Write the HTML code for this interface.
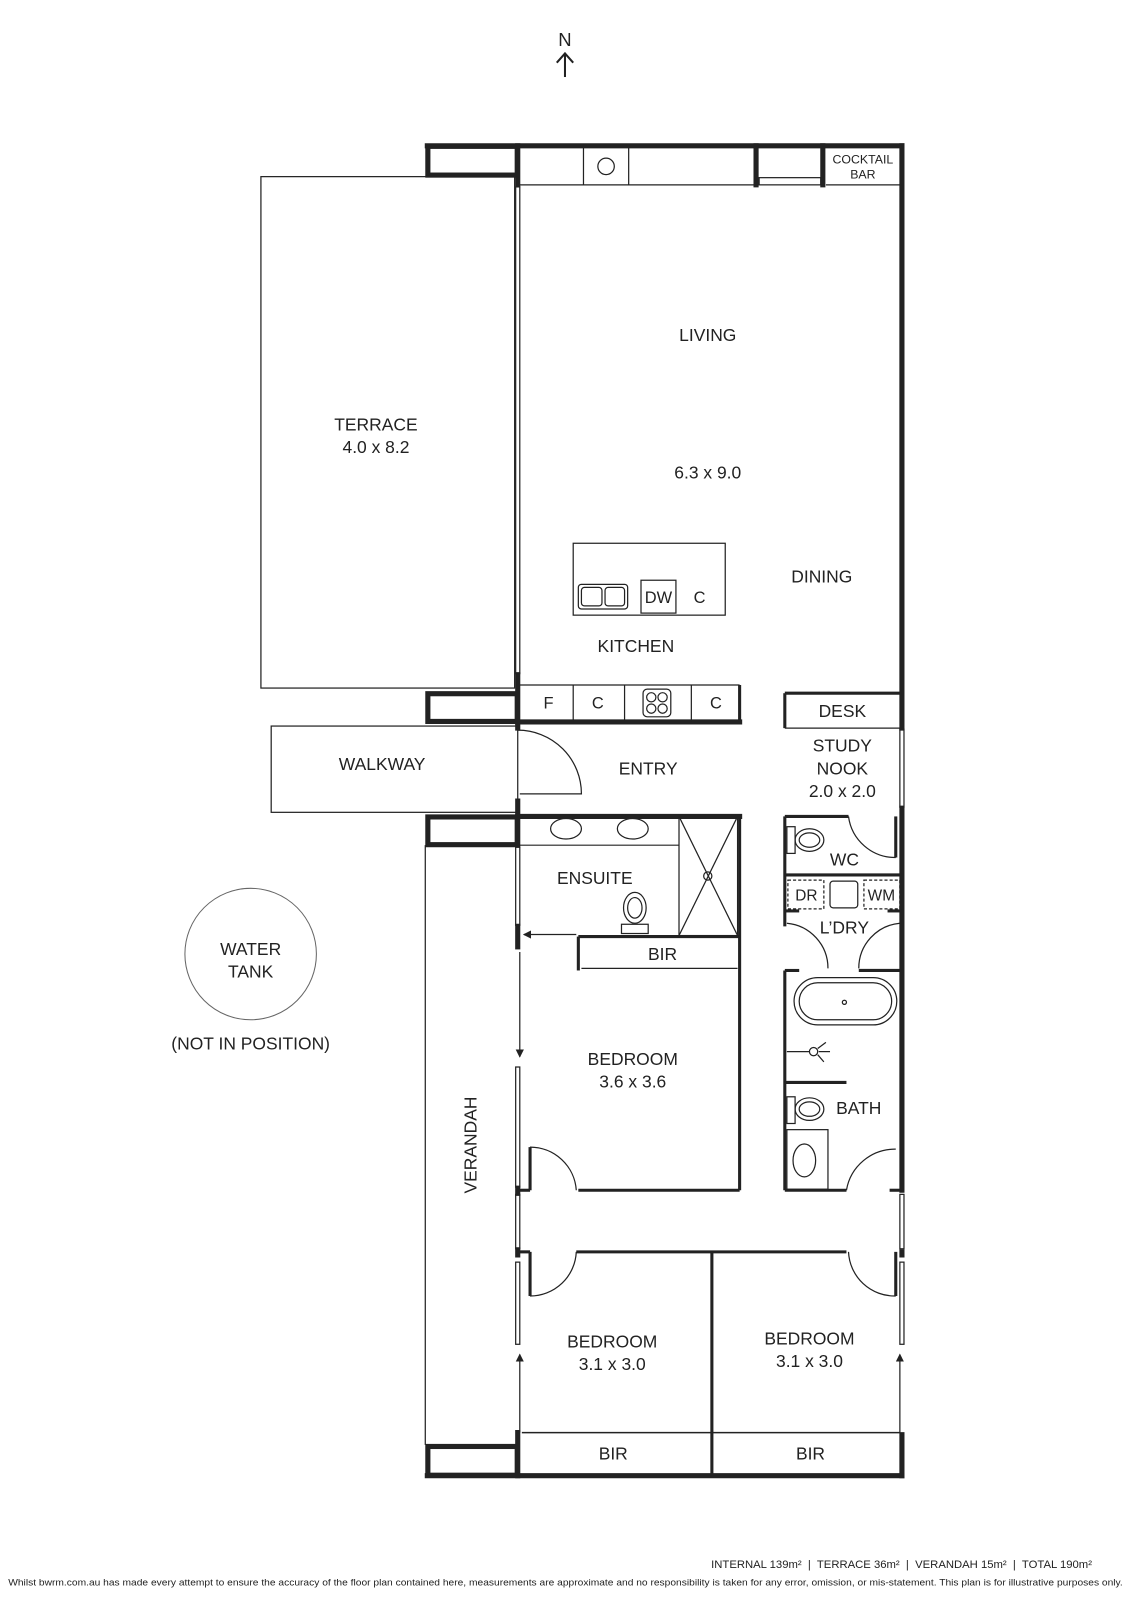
<!DOCTYPE html>
<html><head><meta charset="utf-8"><style>
html,body{margin:0;padding:0;background:#fff;width:1131px;height:1600px;overflow:hidden}
svg{display:block}
text{font-family:"Liberation Sans",sans-serif;fill:#222}
</style></head><body>
<svg width="1131" height="1600" viewBox="4 3 1101 1558" preserveAspectRatio="none" xmlns="http://www.w3.org/2000/svg">
<defs><marker id="ah" markerWidth="8" markerHeight="8" refX="7" refY="4" orient="auto" markerUnits="userSpaceOnUse"><path d="M0,0 L8,4 L0,8z" fill="#222"/></marker></defs>
<g fill="none" stroke="#222">
<line x1="554" y1="78" x2="554" y2="56" stroke-width="2"/>
<path d="M546,64 L554,55 L562,64" stroke-width="2"/>
<rect x="258" y="175" width="247" height="498" stroke-width="1.2"/>
<rect x="268" y="710" width="240" height="84" stroke-width="1.2"/>
<line x1="418" y1="826" x2="418" y2="1410" stroke-width="1.2"/>
<circle cx="248" cy="932" r="64" stroke-width="1" stroke="#666"/>
<g stroke-width="5" stroke-linecap="square">
<rect x="420.5" y="145.5" width="87" height="28"/>
<line x1="420" y1="145" x2="882" y2="145"/>
<line x1="882" y1="145" x2="882" y2="712"/>
<line x1="882" y1="790" x2="882" y2="1162"/>
<line x1="882" y1="1222" x2="882" y2="1225"/>
<line x1="882" y1="1400" x2="882" y2="1440"/>
<line x1="508" y1="145" x2="508" y2="183"/>
<line x1="508" y1="660" x2="508" y2="712"/>
<rect x="420.5" y="678.5" width="87" height="27"/>
<line x1="508" y1="706" x2="724" y2="706"/>
<line x1="508" y1="783" x2="508" y2="826"/>
<rect x="420.5" y="798.5" width="87" height="27"/>
<line x1="508" y1="798" x2="724" y2="798"/>
<line x1="508" y1="905" x2="508" y2="925"/>
<rect x="420.5" y="1411.5" width="87" height="28"/>
<line x1="420" y1="1440" x2="882" y2="1440"/>
<line x1="508" y1="1398" x2="508" y2="1440"/>
<line x1="740" y1="145" x2="740" y2="183"/>
<line x1="805" y1="145" x2="805" y2="183"/>
<line x1="508" y1="1160" x2="508" y2="1165"/>
<line x1="508" y1="1220" x2="508" y2="1225"/>
</g>
<g stroke-width="3">
<line x1="724" y1="670" x2="724" y2="706"/>
<line x1="724" y1="798" x2="724" y2="1162"/>
<line x1="567" y1="915" x2="724" y2="915"/>
<line x1="567" y1="915" x2="567" y2="948"/>
<line x1="567" y1="1162" x2="724" y2="1162"/>
<line x1="520" y1="1120" x2="520" y2="1162"/>
<line x1="508" y1="1162" x2="520" y2="1162"/>
<line x1="565" y1="1222" x2="828" y2="1222"/>
<line x1="520" y1="1222" x2="520" y2="1265"/>
<line x1="508" y1="1222" x2="520" y2="1222"/>
<line x1="697" y1="1222" x2="697" y2="1440"/>
<line x1="876" y1="1222" x2="876" y2="1265"/>
<line x1="768" y1="678" x2="882" y2="678"/>
<line x1="768" y1="678" x2="768" y2="712"/>
<line x1="768" y1="798" x2="830" y2="798"/>
<line x1="768" y1="798" x2="768" y2="905"/>
<line x1="768" y1="855" x2="882" y2="855"/>
<line x1="768" y1="890" x2="782" y2="890"/>
<line x1="868" y1="890" x2="882" y2="890"/>
<line x1="768" y1="948" x2="782" y2="948"/>
<line x1="840" y1="948" x2="882" y2="948"/>
<line x1="768" y1="948" x2="768" y2="1162"/>
<line x1="768" y1="1162" x2="828" y2="1162"/>
<line x1="870" y1="1162" x2="882" y2="1162"/>
<line x1="768" y1="1057" x2="828" y2="1057"/>
<line x1="876" y1="798" x2="876" y2="838"/>
</g>
<g stroke-width="1.2">
<rect x="506" y="185" width="4" height="474"/>
<rect x="880" y="713" width="4" height="76"/>
<rect x="506" y="828" width="4" height="76"/>
<rect x="506" y="1042" width="4" height="117"/>
<rect x="506" y="1166" width="4" height="53"/>
<rect x="506" y="1232" width="4" height="80"/>
<rect x="880" y="1166" width="4" height="53"/>
<rect x="880" y="1232" width="4" height="80"/>
<rect x="743" y="176" width="60" height="7"/>
</g>
<g stroke-width="1.2">
<line x1="510" y1="183" x2="740" y2="183"/>
<line x1="572" y1="147" x2="572" y2="183"/>
<line x1="616" y1="147" x2="616" y2="183"/>
<circle cx="594" cy="165" r="8"/>
<line x1="808" y1="183" x2="880" y2="183"/>
<rect x="562" y="532" width="148" height="70"/>
<rect x="567" y="572" width="48" height="24" rx="3"/>
<rect x="570" y="575" width="20" height="18" rx="3"/>
<rect x="593" y="575" width="19" height="18" rx="3"/>
<rect x="628" y="568" width="34" height="32"/>
<line x1="510" y1="670" x2="724" y2="670"/>
<line x1="562" y1="670" x2="562" y2="706"/>
<line x1="612" y1="670" x2="612" y2="706"/>
<line x1="677" y1="670" x2="677" y2="706"/>
<rect x="630" y="674" width="27" height="27" rx="4"/>
<circle cx="638" cy="682" r="4.5"/><circle cx="649" cy="682" r="4.5"/>
<circle cx="638" cy="693" r="4.5"/><circle cx="649" cy="693" r="4.5"/>
<path d="M508,714 A62,62 0 0 1 570,776 L510,776"/>
<line x1="510" y1="826" x2="665" y2="826"/>
<ellipse cx="555" cy="810" rx="15" ry="10"/>
<ellipse cx="620" cy="810" rx="15" ry="10"/>
<rect x="665" y="798" width="57" height="116"/>
<line x1="665" y1="798" x2="722" y2="914"/><line x1="722" y1="798" x2="665" y2="914"/>
<circle cx="693" cy="856" r="4"/>
<ellipse cx="622" cy="887" rx="11" ry="15"/><ellipse cx="622" cy="887" rx="7" ry="10"/>
<rect x="609" y="903" width="26" height="9"/>
<line x1="565" y1="913" x2="514" y2="913" marker-end="url(#ah)"/>
<line x1="510" y1="930" x2="510" y2="1032" marker-end="url(#ah)"/>
<line x1="570" y1="946" x2="722" y2="946"/>
<path d="M520,1120 A45,45 0 0 1 565,1162"/>
<line x1="768" y1="712" x2="882" y2="712"/>
<rect x="770" y="808" width="8" height="26"/>
<ellipse cx="792" cy="821" rx="14" ry="11"/><ellipse cx="792" cy="821" rx="10" ry="7"/>
<path d="M830,798 A46,46 0 0 0 876,838"/>
<g stroke-dasharray="3,2"><rect x="771" y="860" width="35" height="28"/><rect x="845" y="860" width="35" height="28"/></g>
<rect x="812" y="861" width="27" height="26" rx="3"/>
<path d="M770,902 A44,44 0 0 1 810,946"/>
<path d="M880,902 A44,44 0 0 0 840,946"/>
<rect x="777" y="955" width="100" height="46" rx="23"/>
<rect x="782" y="960" width="90" height="36" rx="18"/>
<circle cx="826" cy="979" r="2"/>
<circle cx="796" cy="1027" r="4"/><line x1="770" y1="1027" x2="792" y2="1027"/>
<line x1="800" y1="1024" x2="808" y2="1018"/><line x1="801" y1="1027" x2="812" y2="1027"/><line x1="800" y1="1030" x2="806" y2="1037"/>
<rect x="770" y="1071" width="8" height="26"/>
<ellipse cx="792" cy="1083" rx="14" ry="11"/><ellipse cx="792" cy="1083" rx="10" ry="7"/>
<rect x="770" y="1103" width="40" height="58"/>
<ellipse cx="787" cy="1133" rx="11" ry="16"/>
<path d="M876,1122 A48,48 0 0 0 828,1162"/>
<path d="M520,1265 A45,45 0 0 0 565,1222"/>
<path d="M876,1265 A45,45 0 0 1 830,1222"/>
<line x1="510" y1="1398" x2="510" y2="1322" marker-end="url(#ah)"/>
<line x1="880" y1="1398" x2="880" y2="1322" marker-end="url(#ah)"/>
<line x1="512" y1="1398" x2="880" y2="1398" stroke-width="1.5"/>
</g>
</g>
<g font-size="17" text-anchor="middle">
<text x="554" y="48" font-size="18">N</text>
<text x="844" y="162" font-size="12">COCKTAIL</text>
<text x="844" y="177" font-size="12">BAR</text>
<text x="693" y="335">LIVING</text>
<text x="693" y="469">6.3 x 9.0</text>
<text x="370" y="422">TERRACE</text>
<text x="370" y="444">4.0 x 8.2</text>
<text x="804" y="570">DINING</text>
<text x="645" y="590" font-size="16">DW</text>
<text x="685" y="590" font-size="16">C</text>
<text x="623" y="638">KITCHEN</text>
<text x="538" y="693" font-size="16">F</text>
<text x="586" y="693" font-size="16">C</text>
<text x="701" y="693" font-size="16">C</text>
<text x="824" y="701">DESK</text>
<text x="824" y="735">STUDY</text>
<text x="824" y="757">NOOK</text>
<text x="824" y="779">2.0 x 2.0</text>
<text x="376" y="753">WALKWAY</text>
<text x="635" y="757">ENTRY</text>
<text x="583" y="864">ENSUITE</text>
<text x="826" y="846">WC</text>
<text x="789" y="880" font-size="15">DR</text>
<text x="862" y="880" font-size="15">WM</text>
<text x="826" y="912">L’DRY</text>
<text x="649" y="938">BIR</text>
<text x="620" y="1040">BEDROOM</text>
<text x="620" y="1062">3.6 x 3.6</text>
<text x="840" y="1088">BATH</text>
<text x="248" y="933">WATER</text>
<text x="248" y="955">TANK</text>
<text x="248" y="1025">(NOT IN POSITION)</text>
<text x="600" y="1315">BEDROOM</text>
<text x="600" y="1337">3.1 x 3.0</text>
<text x="792" y="1312">BEDROOM</text>
<text x="792" y="1334">3.1 x 3.0</text>
<text x="601" y="1424">BIR</text>
<text x="793" y="1424">BIR</text>
<text x="0" y="0" transform="translate(468,1118) rotate(-90)">VERANDAH</text>
</g>
<text x="1067" y="1530" font-size="11" text-anchor="end">INTERNAL 139m² &#160;|&#160; TERRACE 36m² &#160;|&#160; VERANDAH 15m² &#160;|&#160; TOTAL 190m²</text>
<text x="12" y="1547" font-size="9.3" textLength="1085" lengthAdjust="spacingAndGlyphs">Whilst bwrm.com.au has made every attempt to ensure the accuracy of the floor plan contained here, measurements are approximate and no responsibility is taken for any error, omission, or mis-statement. This plan is for illustrative purposes only.</text>
</svg>
</body></html>
